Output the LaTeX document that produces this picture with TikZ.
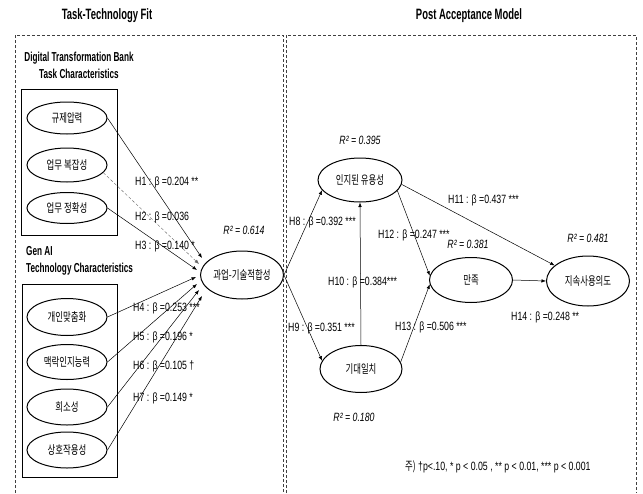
\documentclass[tikz,border=0pt]{standalone}
\usepackage{fontspec}
\setmainfont{Liberation Sans}[FakeStretch=0.73]
\newfontfamily\hfont{Liberation Sans}[FakeStretch=0.63]
\newfontfamily\kr{Noto Sans CJK KR}[FakeStretch=0.7]
\usetikzlibrary{arrows.meta, shapes.geometric, calc}

\begin{document}
\begin{tikzpicture}[x=1pt, y=-1pt,
  frame/.style={densely dashed, line width=0.8pt, draw=black!75},
  grp/.style={draw, line width=0.9pt},
  var/.style={ellipse, draw, line width=1pt, minimum width=80pt, minimum height=34pt, inner sep=0pt, font=\kr\fontsize{12}{13}\selectfont},
  head/.style={font=\hfont\bfseries\fontsize{15}{17}\selectfont},
  sub/.style={font=\hfont\bfseries\fontsize{13}{17}\selectfont, inner sep=0pt},
  hyp/.style={anchor=west, inner sep=0pt, font=\fontsize{12}{13}\selectfont},
  rsq/.style={inner sep=0pt, font=\itshape\fontsize{12}{13}\selectfont},
  arr/.style={-{Latex[length=4.5pt, width=3.5pt]}, line width=0.5pt}]
\useasboundingbox (0,0) rectangle (643,493);
% titles and frames
\node[head] (ttl1) at (107,16) {Task-Technology Fit};
\node[head] (ttl2) at (469,16) {Post Acceptance Model};
\draw[frame] (15,493) -- (15,35) -- (283,35) -- (283,493);
\draw[frame] (286,493) -- (286,35) -- (636,35) -- (636,493);
% task-technology fit
\node[sub, align=center] (tsk) at (79,65.5) {Digital Transformation Bank\\Task Characteristics};
\draw[grp] (21,89) rectangle (117,235);
\node[var, minimum height=32pt] (p1) at (67,118) {규제압력};
\node[var] (p2) at (67,165) {업무 복잡성};
\node[var, minimum height=31pt] (p3) at (67,208) {업무 정확성};
\node[sub, align=left, anchor=west] (gai) at (26,260.5) {Gen AI\\Technology Characteristics};
\draw[grp] (22,284) rectangle (117,477);
\node[var, minimum height=37pt] (g1) at (67,317) {개인맞춤화};
\node[var, minimum height=35pt] (g2) at (67,362) {맥락인지능력};
\node[var, minimum height=36pt] (g3) at (67,407) {희소성};
\node[var, minimum height=36pt] (g4) at (67,450) {상호작용성};
\node[var, minimum width=83pt, minimum height=48pt] (ttf) at (242,275) {과업-기술적합성};
\node[rsq] (r0) at (244,230) {R² = 0.614};
\draw[arr] (p1.east) -- ($(ttf.west)+(2,-17)$);
\draw[arr, densely dashed, line width=0.4pt, black!60] (p2.-12) -- ($(ttf.west)+(-1,-11)$);
\draw[arr] (p3.east) -- ($(ttf.west)+(-3,-5)$);
\draw[arr] (g1.east) -- ($(ttf.west)+(-4,2)$);
\draw[arr] (g2.east) -- ($(ttf.west)+(-3,9)$);
\draw[arr] (g3.east) -- ($(ttf.west)+(-1,15)$);
\draw[arr] (g4.east) -- ($(ttf.west)+(2,21)$);
\node[hyp] (h1) at (135,182) {H1 : β =0.204 **};
\node[hyp] (h2) at (135,217) {H2 : β =0.036};
\node[hyp] (h3) at (135,246) {H3 : β =0.140 *};
\node[hyp] (h4) at (133,308) {H4 : β =0.253 ***};
\node[hyp] (h5) at (133,337) {H5 : β =0.196 *};
\node[hyp] (h6) at (133,366) {H6 : β =0.105 †};
\node[hyp] (h7) at (133,398) {H7 : β =0.149 *};
% post acceptance model
\node[var, minimum width=84pt, minimum height=44pt] (pu) at (360,180) {인지된 유용성};
\node[var, minimum width=82pt, minimum height=47pt] (ee) at (361,369) {기대일치};
\node[var, minimum width=83pt, minimum height=45pt] (sat) at (471,280) {만족};
\node[var, minimum width=83pt, minimum height=50pt] (sui) at (588,281) {지속사용의도};
\node[rsq] (r1) at (360,140) {R² = 0.395};
\node[rsq] (r2) at (354,417) {R² = 0.180};
\node[rsq] (r3) at (468,244) {R² = 0.381};
\node[rsq] (r4) at (588,238) {R² = 0.481};
\draw[arr] (ttf.east) -- (pu.195);
\draw[arr] (ttf.east) -- (ee.168);
\draw[arr] (ee.north) -- (pu.south);
\draw[arr] (pu.-6) -- (sui.155);
\draw[arr] (pu.-16) -- (sat.174);
\draw[arr] (ee.10) -- (sat.186);
\draw[arr] (sat.east) -- (sui.west);
\node[hyp] (h8) at (289,222) {H8 : β =0.392 ***};
\node[hyp] (h9) at (288,328) {H9 : β =0.351 ***};
\node[hyp] (h10) at (328,282) {H10 : β =0.384***};
\node[hyp] (h11) at (448,200) {H11 : β =0.437 ***};
\node[hyp] (h12) at (378,235) {H12 : β =0.247 ***};
\node[hyp] (h13) at (395,327) {H13 : β =0.506 ***};
\node[hyp] (h14) at (511,317) {H14 : β =0.248 **};
\node[hyp] (note) at (405,467) {{\kr 주)} †p<.10, * p < 0.05 , ** p < 0.01, *** p < 0.001};
\end{tikzpicture}
\end{document}
